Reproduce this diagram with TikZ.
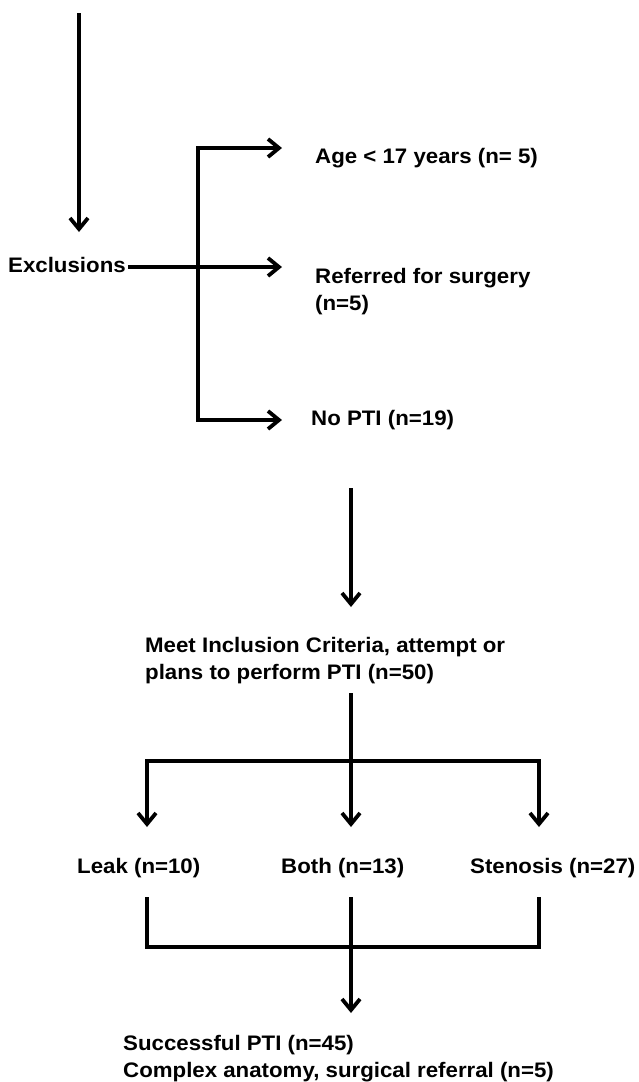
\documentclass[tikz,border=0pt]{standalone}
\usepackage{fontspec}
\setmainfont{Liberation Sans}[FakeStretch=1.06]
\usetikzlibrary{arrows.meta}
\begin{document}
\begin{tikzpicture}[x=1pt,y=-1pt,
  txt/.style={anchor=base west, inner sep=0pt, font=\fontsize{21}{27}\selectfont\bfseries, align=left},
  ln/.style={line width=3.8pt},
  arr/.style={ln, -{Straight Barb[length=11pt,width=18pt]}}]
\useasboundingbox (0,0) rectangle (639,1082);

% top part
\coordinate (top) at (79,13);
\coordinate (topend) at (79,232);
\node[txt] (excl) at (8,272) {Exclusions};
\coordinate (bt) at (198,148);
\coordinate (bb) at (198,420);
\coordinate (agein) at (282,148);
\coordinate (refin) at (282,267);
\coordinate (nopin) at (282,420);
\node[txt] (age) at (315,163) {Age < 17 years (n= 5)};
\node[txt] (ref) at (315,310) {Referred for surgery\\(n=5)};
\node[txt] (nopti) at (311,425) {No PTI (n=19)};

\draw[arr] (top) -- (topend);
\draw[arr] ([xshift=2pt]excl.east |- refin) -- (refin);
\draw[arr] (bb) |- (agein);
\draw[arr] (bt) |- (nopin);

% middle
\coordinate (m1) at (351,488);
\coordinate (m1end) at (351,607);
\node[txt] (meet) at (145,679) {Meet Inclusion Criteria, attempt or\\plans to perform PTI (n=50)};
\draw[arr] (m1) -- (m1end);

\coordinate (m2) at (351,693);
\coordinate (split) at (351,761);
\coordinate (leakin) at (147,827);
\coordinate (bothin) at (351,827);
\coordinate (stenin) at (539,827);
\draw[ln] (m2) -- (split);
\draw[arr] (split) -| (leakin);
\draw[arr] (split) -| (stenin);
\draw[arr] (split) -- (bothin);

\node[txt] (leak) at (77,873) {Leak (n=10)};
\node[txt] (both) at (281,873) {Both (n=13)};
\node[txt] (sten) at (470,873) {Stenosis (n=27)};

% bottom
\coordinate (lo) at (147,897);
\coordinate (bo) at (351,897);
\coordinate (so) at (539,897);
\coordinate (mg) at (351,947);
\coordinate (fin) at (351,1013);
\draw[ln] (lo) |- (mg) -| (so);
\draw[ln] (bo) -- (mg);
\draw[arr] (mg) -- (fin);

\node[txt] (succ) at (123,1077) {Successful PTI (n=45)\\Complex anatomy, surgical referral (n=5)};
\end{tikzpicture}
\end{document}
